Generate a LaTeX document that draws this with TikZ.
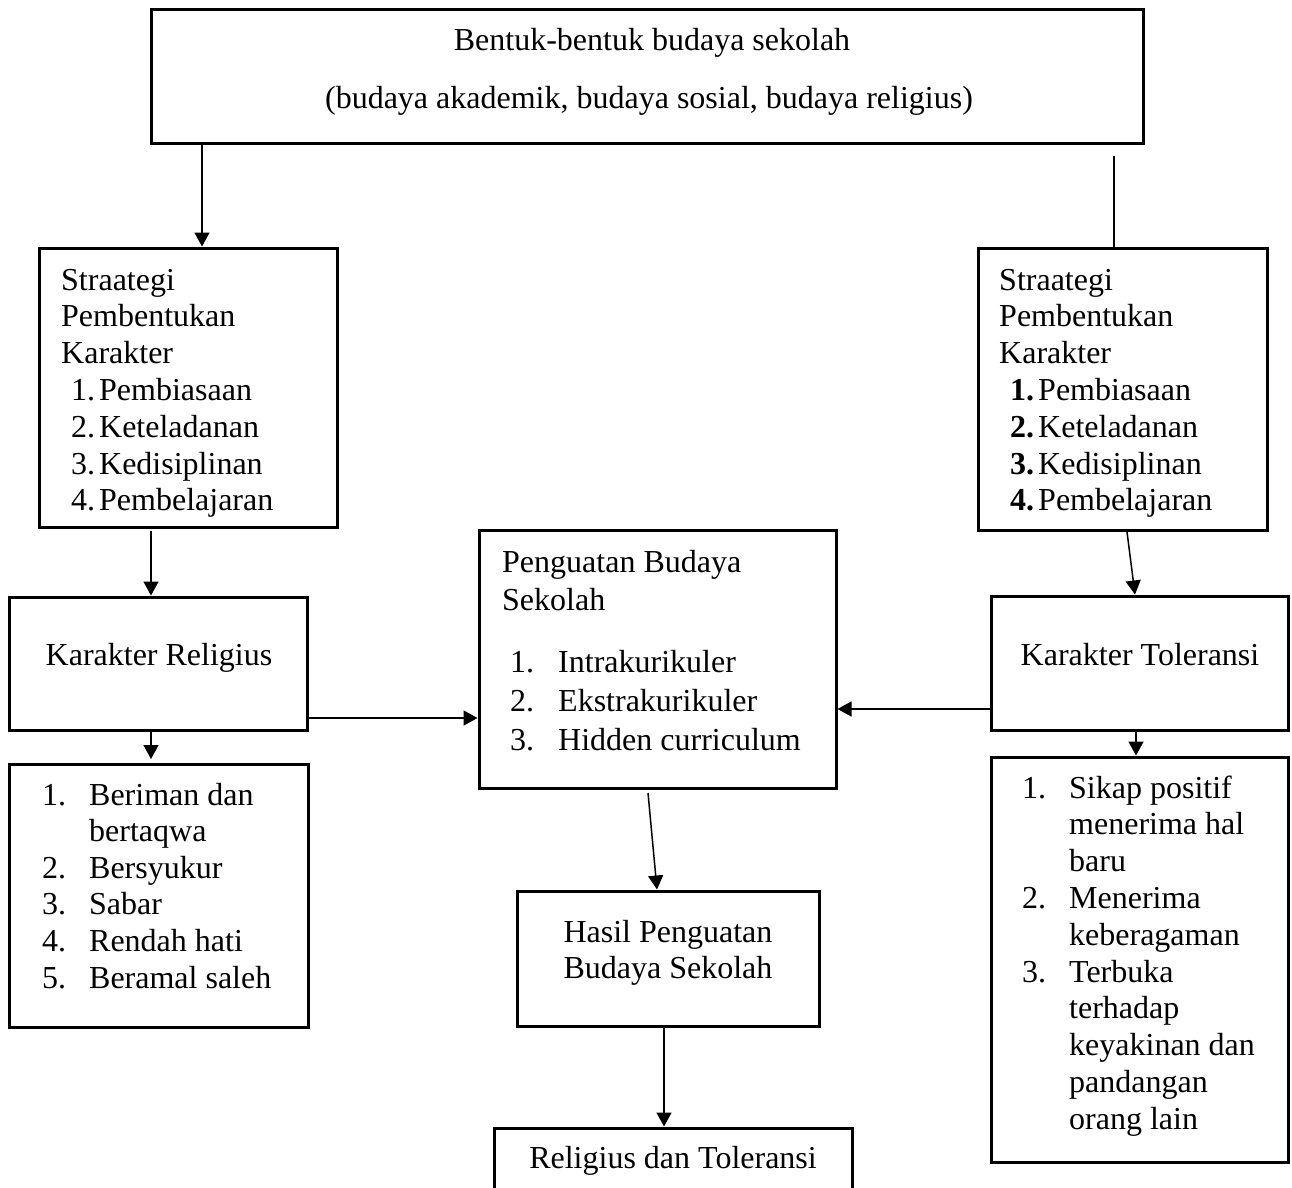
\documentclass[tikz,border=0pt]{standalone}
\usepackage{fontspec}
\setmainfont{Liberation Serif}
\usetikzlibrary{arrows.meta,fit}
\newcommand\bigfont{\fontsize{32}{36.8}\selectfont}
\begin{document}
\begin{tikzpicture}[x=1pt,y=-1pt,
  box/.style={draw, line width=3pt, inner sep=0pt, rectangle},
  txt/.style={inner sep=0pt, font=\bigfont},
  conn/.style={line width=1.5pt},
  arr/.style={conn, -{Triangle[width=15pt,length=14pt]}}]
\useasboundingbox (0,0) rectangle (1292,1187);
\clip (0,0) rectangle (1292,1187);

% boxes
\node[box, fit={(151,9)(1143,143)}] (top) {};
\node[box, fit={(39,248)(337,527)}] (stratL) {};
\node[box, fit={(978,248)(1267,530)}] (stratR) {};
\node[box, fit={(9,597)(307,730)}] (karRel) {};
\node[box, fit={(479,530)(836,788)}] (peng) {};
\node[box, fit={(991,596)(1288,730)}] (karTol) {};
\node[box, fit={(9,764)(308,1027)}] (lstL) {};
\node[box, fit={(991,757)(1288,1162)}] (lstR) {};
\node[box, fit={(517,891)(819,1026)}] (hasil) {};
\node[box, fit={(494,1128)(852,1205)}] (relTol) {};

% texts
\node[txt, anchor=base] (t1) at (652,50) {Bentuk-bentuk budaya sekolah};
\node[txt, anchor=base] (t2) at (649,108) {(budaya akademik, budaya sosial, budaya religius)};

\node[txt, anchor=base west] (sLtxt) at (61,290) {\parbox[t]{270pt}{\bigfont
Straategi\\Pembentukan\\Karakter\\
\hspace*{10pt}\makebox[28pt][l]{1.}Pembiasaan\\
\hspace*{10pt}\makebox[28pt][l]{2.}Keteladanan\\
\hspace*{10pt}\makebox[28pt][l]{3.}Kedisiplinan\\
\hspace*{10pt}\makebox[28pt][l]{4.}Pembelajaran}};

\node[txt, anchor=base west] (sRtxt) at (999,290) {\parbox[t]{260pt}{\bigfont
Straategi\\Pembentukan\\Karakter\\
\hspace*{11pt}\makebox[28pt][l]{\bfseries 1.}Pembiasaan\\
\hspace*{11pt}\makebox[28pt][l]{\bfseries 2.}Keteladanan\\
\hspace*{11pt}\makebox[28pt][l]{\bfseries 3.}Kedisiplinan\\
\hspace*{11pt}\makebox[28pt][l]{\bfseries 4.}Pembelajaran}};

\node[txt, anchor=base] (kr) at (159,665) {Karakter Religius};
\node[txt, anchor=base] (kt) at (1140,665) {Karakter Toleransi};

\node[txt, anchor=base west] (pTitle) at (502,572) {\parbox[t]{320pt}{\fontsize{32}{38}\selectfont
Penguatan Budaya\\Sekolah}};
\node[txt, anchor=base west] (pList) at (510,672) {\parbox[t]{320pt}{\fontsize{32}{39}\selectfont
\makebox[48pt][l]{1.}Intrakurikuler\\
\makebox[48pt][l]{2.}Ekstrakurikuler\\
\makebox[48pt][l]{3.}Hidden curriculum}};

\node[txt, anchor=base west] (lLtxt) at (42,805) {\parbox[t]{260pt}{\fontsize{32}{36.6}\selectfont
\makebox[47pt][l]{1.}Beriman dan\\
\hspace*{47pt}bertaqwa\\
\makebox[47pt][l]{2.}Bersyukur\\
\makebox[47pt][l]{3.}Sabar\\
\makebox[47pt][l]{4.}Rendah hati\\
\makebox[47pt][l]{5.}Beramal saleh}};

\node[txt, anchor=base west] (lRtxt) at (1022,798) {\parbox[t]{260pt}{\fontsize{32}{36.8}\selectfont
\makebox[47pt][l]{1.}Sikap positif\\
\hspace*{47pt}menerima hal\\
\hspace*{47pt}baru\\
\makebox[47pt][l]{2.}Menerima\\
\hspace*{47pt}keberagaman\\
\makebox[47pt][l]{3.}Terbuka\\
\hspace*{47pt}terhadap\\
\hspace*{47pt}keyakinan dan\\
\hspace*{47pt}pandangan\\
\hspace*{47pt}orang lain}};

\node[txt, anchor=base] (hTxt) at (668,942) {\parbox[t]{290pt}{\centering\fontsize{32}{36}\selectfont
Hasil Penguatan\\Budaya Sekolah}};

\node[txt, anchor=base] (rtTxt) at (673,1168) {Religius dan Toleransi};

% connectors
\draw[arr] ([xshift=14pt]stratL.north |- top.south) -- ([xshift=14pt]stratL.north);
\coordinate (rgap) at (1114,156);
\draw[conn] (rgap) -- (rgap |- stratR.north);
\coordinate (lgap) at (151,531);
\draw[arr] (lgap) -- (lgap |- karRel.north);
\coordinate (rs) at (1127,532);
\draw[arr] (rs) -- ([xshift=-4.5pt]karTol.north);
\coordinate (lla) at (151,759);
\draw[arr] (karRel.south -| lla) -- (lla);
\coordinate (h1) at ([yshift=-54.5pt]karRel.east);
\draw[arr] (h1) -- (h1 -| peng.west);
\coordinate (h2) at ([yshift=-46pt]karTol.west);
\draw[arr] (h2) -- (h2 -| peng.east);
\draw[arr] ([xshift=-3.5pt]karTol.south) -- ([xshift=-3.5pt]lstR.north);
\coordinate (ps) at (648,793);
\draw[arr] (ps) -- ([xshift=-11pt]hasil.north);
\draw[arr] ([xshift=-4pt]hasil.south) -- ([xshift=-4pt]hasil.south |- relTol.north);
\end{tikzpicture}
\end{document}
